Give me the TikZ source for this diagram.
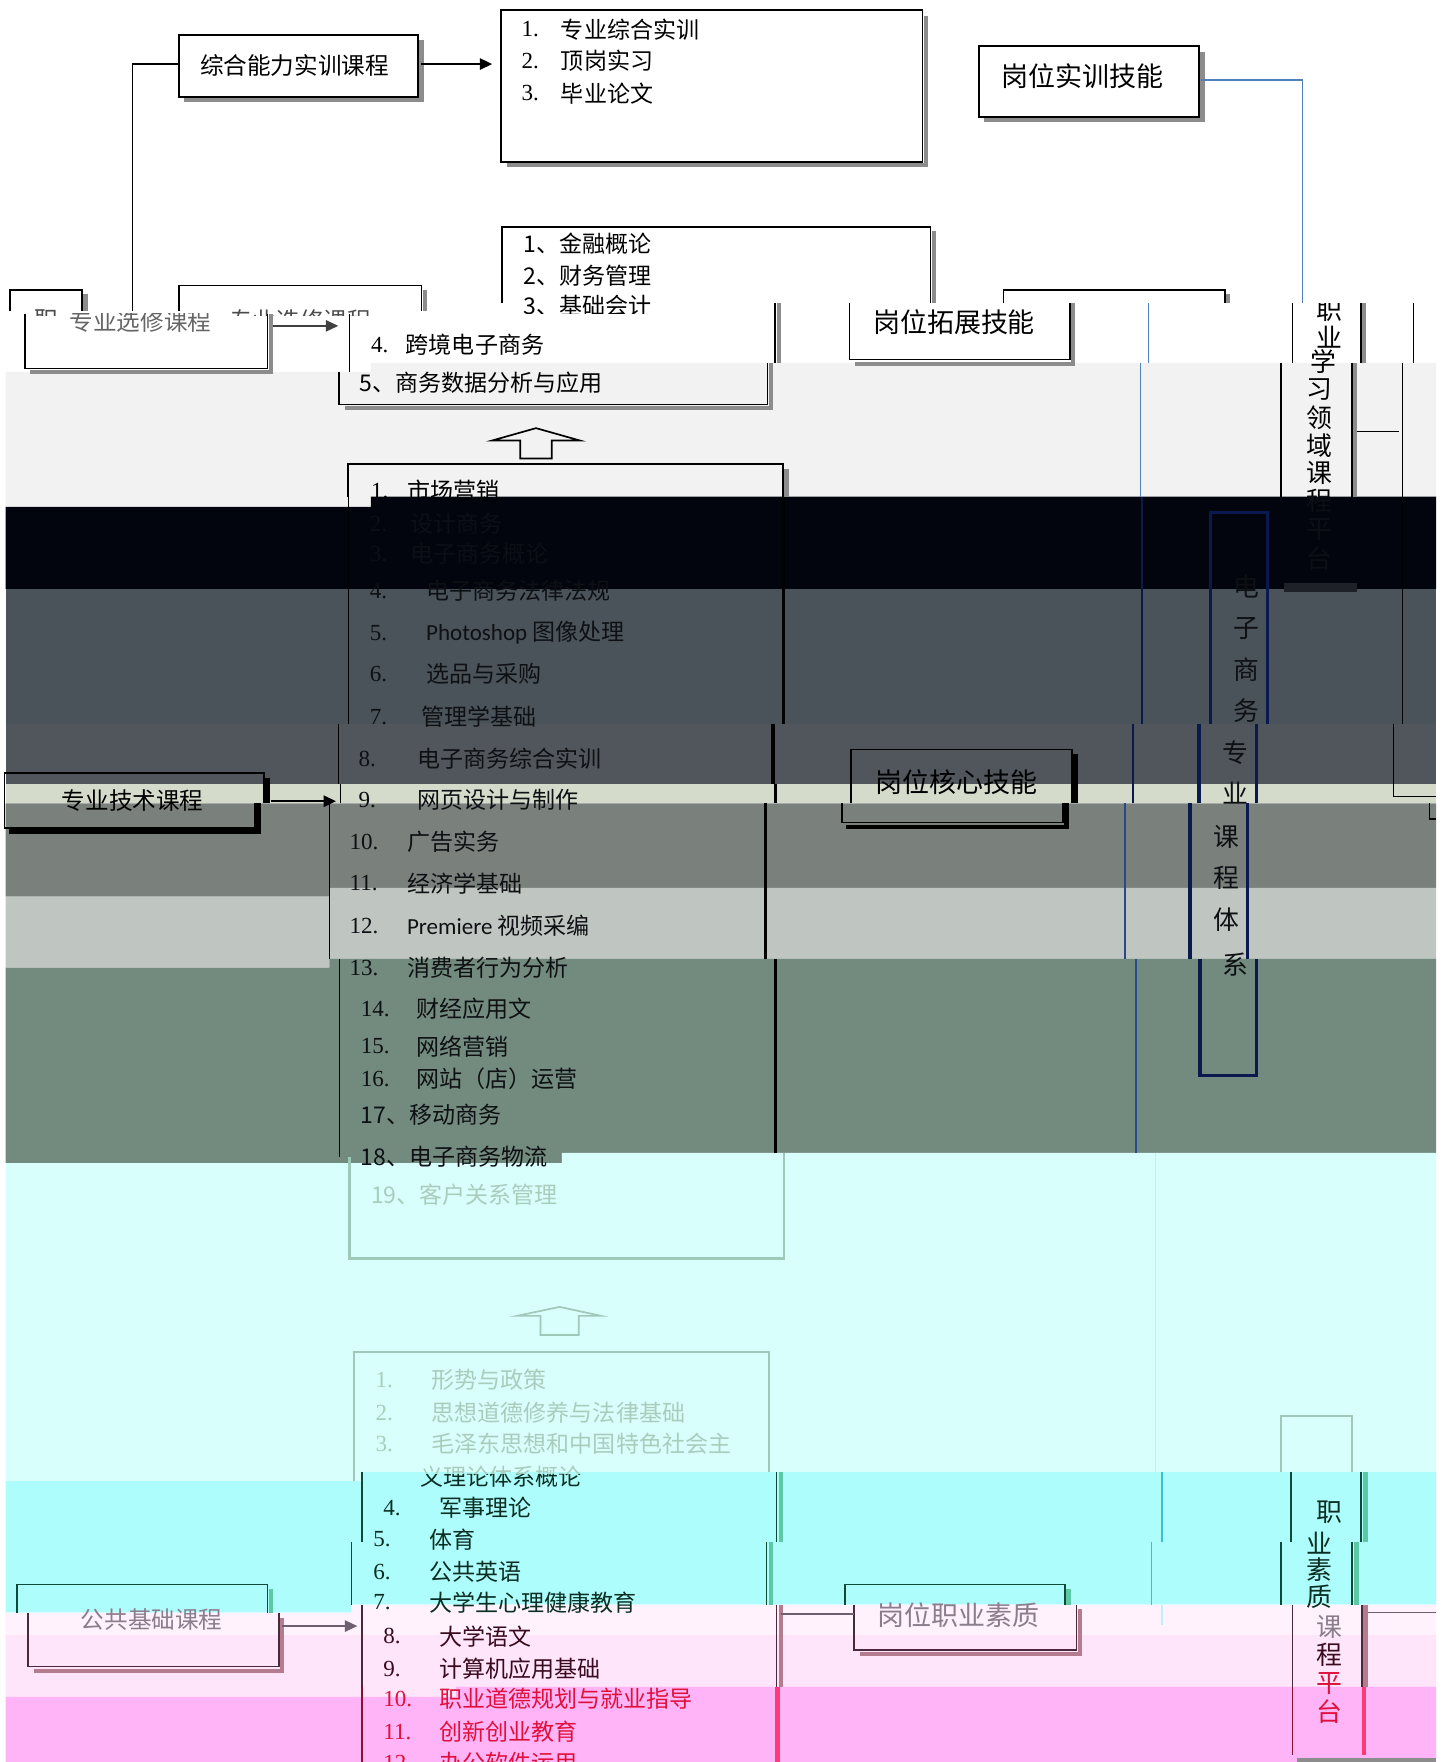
\documentclass[tikz,border=0pt]{standalone}
\usepackage{fontspec}
\setmainfont{Noto Sans CJK SC}
\newfontfamily\latf{Carlito}
\newfontfamily\numf{Liberation Serif}
\usetikzlibrary{arrows.meta}
\definecolor{cA}{HTML}{F2F2F2}
\definecolor{cB}{HTML}{02050E}
\definecolor{cC}{HTML}{4A535A}
\definecolor{cD}{HTML}{50565B}
\definecolor{cE}{HTML}{D4DBCA}
\definecolor{cF}{HTML}{7A807B}
\definecolor{cG}{HTML}{BFC5C0}
\definecolor{cH}{HTML}{738B7F}
\definecolor{cI}{HTML}{D9FFFC}
\definecolor{cJ}{HTML}{ADFDFC}
\definecolor{cK}{HTML}{FFF2FD}
\definecolor{cL}{HTML}{FFE5FA}
\definecolor{cM}{HTML}{FFB4F8}
\definecolor{shgray}{HTML}{8C8C8C}
\definecolor{blueln}{HTML}{4F81BD}
\definecolor{navy}{HTML}{0A1A4E}
\definecolor{navyb}{HTML}{284A8A}
\definecolor{dk}{HTML}{0C0F16}
\definecolor{txf}{HTML}{0E1014}
\definecolor{boxdk}{HTML}{1E2228}
\definecolor{lg}{HTML}{9DC9B9}
\definecolor{fa}{HTML}{A9CDBD}
\definecolor{dgl}{HTML}{0E4A36}
\definecolor{dgt}{HTML}{0A2E22}
\definecolor{gsh}{HTML}{5CC8A6}
\definecolor{tealln}{HTML}{3CC0D0}
\definecolor{lcy}{HTML}{BDF0F8}
\definecolor{mauve}{HTML}{8C7C8C}
\definecolor{mrn}{HTML}{3A0A1E}
\definecolor{mln}{HTML}{4A2A3A}
\definecolor{mshd}{HTML}{B47C8E}
\definecolor{mgray}{HTML}{6E5E70}
\definecolor{redt}{HTML}{E0103C}
\definecolor{redd}{HTML}{8A1030}
\definecolor{pinkln}{HTML}{FF3878}
\tikzset{
  bx/.style={draw=black, line width=1.6pt},
  shd/.style={draw=shgray, line width=4pt},
  crs/.style={anchor=west, inner sep=0pt, font=\fontsize{20.5}{22}\selectfont},
  lbl/.style={inner sep=0pt, font=\fontsize{21}{24}\selectfont},
  big/.style={inner sep=0pt, font=\fontsize{24}{26}\selectfont},
  vch/.style={inner sep=0pt, font=\fontsize{23}{25}\selectfont},
  bl/.style={draw=blueln, line width=1.3pt},
  arr/.style={line width=2pt, -{Triangle[length=11pt,width=10pt]}},
}
\newcommand\crsline[7]{%
  \node[crs,text=#7,font=\numf\fontsize{20.5}{22}\selectfont] (#1n) at (#2,#4) {#5};
  \node[crs,text=#7] (#1t) at (#3,#4) {#6};}
\newcommand\shbox[4]{%
  \draw[shd] (#3+3,#2+5) -- (#3+3,#4+3) -- (#1+5,#4+3);
  \draw[bx] (#1,#2) rectangle (#3,#4);}
\begin{document}
\begin{tikzpicture}[x=1pt,y=-1pt]
\useasboundingbox (0,0) rectangle (1289,1568);
\fill[white] (0,0) rectangle (1289,1568);
% ---------- background bands ----------
\fill[cA] (5,331) -- (330,331) -- (330,323) -- (1278,323) -- (1278,442) -- (330,442) -- (330,451) -- (5,451) -- cycle;
\fill[cB] (5,451) -- (330,451) -- (330,442) -- (1278,442) -- (1278,524) -- (5,524) -- cycle;
\fill[cC] (5,524) rectangle (1278,644);
\fill[cD] (5,644) rectangle (1278,698);
\fill[cE] (5,698) rectangle (1278,715);
\fill[cF] (5,715) -- (1278,715) -- (1278,790) -- (293,790) -- (293,798) -- (5,798) -- cycle;
\fill[cG] (5,798) -- (293,798) -- (293,790) -- (1278,790) -- (1278,853) -- (293,853) -- (293,861) -- (5,861) -- cycle;
\fill[cH] (5,861) -- (293,861) -- (293,853) -- (1278,853) -- (1278,1026) -- (500,1026) -- (500,1035) -- (5,1035) -- cycle;
\fill[cI] (5,1035) -- (500,1035) -- (500,1026) -- (1278,1026) -- (1278,1310) -- (322,1310) -- (322,1318) -- (5,1318) -- cycle;
\fill[cJ] (5,1318) -- (322,1318) -- (322,1310) -- (1278,1310) -- (1278,1428) -- (313,1428) -- (313,1435) -- (5,1435) -- cycle;
\fill[cK] (5,1435) -- (313,1435) -- (313,1428) -- (1278,1428) -- (1278,1455) -- (5,1455) -- cycle;
\fill[cL] (5,1455) -- (1278,1455) -- (1278,1501) -- (406,1501) -- (406,1510) -- (5,1510) -- cycle;
\fill[cM] (5,1510) -- (406,1510) -- (406,1501) -- (1278,1501) -- (1278,1568) -- (5,1568) -- cycle;
% ---------- band 1 ----------
\shbox{159}{31}{372}{86}
\node[lbl] (zh) at (262,58) {综合能力实训课程};
\coordinate (zl) at (159,57);
\coordinate (lva) at (118,57);
\coordinate (lvb) at (118,277);
\draw[line width=1.5pt] (zl) -- (lva) -- (lvb);
\coordinate (za) at (375,57); \coordinate (zb) at (438,57);
\draw[arr] (za) -- (zb);
\shbox{446}{9}{821}{144}
\crsline{aa}{464}{499}{26}{1.}{专业综合实训}{black}
\crsline{ab}{464}{499}{54}{2.}{顶岗实习}{black}
\crsline{ac}{464}{499}{83}{3.}{毕业论文}{black}
\shbox{871}{41}{1067}{104}
\node[big] (gwa) at (963,68) {岗位实训技能};
\coordinate (bla) at (1069,71); \coordinate (blb) at (1159,71); \coordinate (blc) at (1159,270);
\draw[bl] (bla) -- (blb) -- (blc);
\draw[shd] (831,206) -- (831,270);
\draw[bx] (447,270) -- (447,202) -- (828,202) -- (828,270);
\node[crs] (ba) at (466,217) {1、金融概论};
\node[crs] (bb) at (466,245) {2、财务管理};
\begin{scope}
\clip (440,255) rectangle (840,279);
\node[crs] (bc) at (466,272) {3、基础会计};
\end{scope}
\draw[shd] (76,262) -- (76,277);
\draw[bx] (9,277) -- (9,258) -- (73,258) -- (73,277);
\draw[shd] (378,258) -- (378,277);
\draw[bx] (159,277) -- (159,254) -- (375,254) -- (375,277);
\draw[shd] (1093,262) -- (1093,270);
\draw[bx] (893,270) -- (893,258) -- (1090,258) -- (1090,270);
\begin{scope}
\clip (0,266) rectangle (440,281);
\node[lbl,text=black!70] (zhit) at (41,285) {职};
\node[lbl,text=black!70] (zxt) at (267,285) {专业选修课程};
\end{scope}
% ---------- band 2 ----------
\draw[shd] (241,279) -- (241,331) -- (27,331);
\draw[bx] (22,279) -- (22,328) -- (238,328) -- (238,279);
\begin{scope}
\clip (0,279) rectangle (300,331);
\node[lbl,text=black!60] (zx) at (125,286) {专业选修课程};
\end{scope}
\coordinate (xa) at (243,290); \coordinate (xb) at (301,290);
\draw[arr,draw=black!75,line width=1.5pt] (xa) -- (xb);
\draw[line width=1.3pt] (311,279) -- (311,331);
\draw[shd] (693,270) -- (693,323);
\draw[bx] (690,270) -- (690,323);
\crsline{ca}{330}{361}{307}{4.}{跨境电子商务}{black}
\draw[shd] (955,270) -- (955,324) -- (761,324);
\draw[bx] (756,270) -- (756,320) -- (952,320) -- (952,270);
\node[big] (gwb) at (849,287) {岗位拓展技能};
\draw[bl] (1022,270) -- (1022,323);
\draw[shgray, line width=4pt] (1214,270) -- (1214,323);
\draw[line width=1.3pt] (1150,270) -- (1150,323) (1211,270) -- (1211,323) (1258,270) -- (1258,323);
\begin{scope}
\clip (1130,270) rectangle (1235,312);
\foreach \ch/\yy [count=\i] in {职/276,业/300} \node[vch] (vp\i) at (1183,\yy) {\ch};
\end{scope}
\node[vch] (vxue) at (1178,322) {学};
% ---------- band 3 ----------
\draw[shd] (686,323) -- (686,363) -- (307,363);
\draw[bx] (302,331) -- (302,360) -- (683,360) -- (683,323);
\node[crs] (cb) at (320,341) {5、商务数据分析与应用};
\draw[line width=1.5pt] (477,381) -- (438,392) -- (463,392) -- (463,408) -- (491,408) -- (491,392) -- (516,392) -- cycle;
\draw[shd] (700,417) -- (700,442);
\draw[bx] (310,442) -- (310,413) -- (697,413) -- (697,442);
\crsline{d1}{330}{362}{437}{1.}{市场营销}{black}
\draw[bl] (1015,323) -- (1015,442);
\draw[shgray, line width=4pt] (1206,323) -- (1206,442);
\draw[line width=1.3pt] (1140,323) -- (1140,442) (1203,323) -- (1203,442);
\draw[line width=1.5pt] (1208,384) -- (1245,384);
\draw[line width=1.3pt] (1248,323) -- (1248,644);
\begin{scope}
\clip (1130,334) rectangle (1235,442);
\foreach \ch/\yy [count=\i] in {习/347,领/372,域/397,课/421,程/446} \node[vch] (vq\i) at (1174,\yy) {\ch};
\end{scope}
% ---------- band 4 ----------
\crsline{d2}{329}{365}{466}{2.}{设计商务}{dk}
\crsline{d3}{329}{365}{493}{3.}{电子商务概论}{dk}
\crsline{d4}{329}{379}{526}{4.}{电子商务法律法规}{txf}
\draw[navy, line width=1.5pt] (1016,442) -- (1016,644);
\draw[navy, line width=3pt] (1077,644) -- (1077,456) -- (1128,456) -- (1128,644);
\fill[boxdk] (1143,519) rectangle (1208,527);
\begin{scope}
\clip (1130,442) rectangle (1235,530);
\foreach \ch/\yy [count=\i] in {程/446,平/471,台/497} \node[vch,text=dk] (vr\i) at (1174,\yy) {\ch};
\end{scope}
% ---------- band 5 ----------
\draw[line width=1.2pt] (310,442) -- (310,644);
\draw[line width=3pt] (697,442) -- (697,644);
\crsline{d5}{329}{379}{563}{5.}{{\latf Photoshop} 图像处理}{txf}
\crsline{d6}{329}{379}{600}{6.}{选品与采购}{txf}
\crsline{d7}{329}{375}{638}{7.}{管理学基础}{txf}
\foreach \ch/\xx/\yy [count=\i] in {电/1109/522,子/1109/559,商/1109/596,务/1109/632,专/1099/670,业/1099/706,课/1091/745,程/1091/781,体/1091/818,系/1099/858} \node[vch,text=txf] (ve\i) at (\xx,\yy) {\ch};
% ---------- band 6 ----------
\draw[line width=1.2pt] (301,644) -- (301,698);
\draw[line width=3pt] (688,644) -- (688,698);
\crsline{d8}{319}{371}{675}{8.}{电子商务综合实训}{txf}
\draw[line width=4pt] (957,671) -- (957,715);
\draw[bx] (757,715) -- (757,667) -- (954,667) -- (954,715);
\node[big] (gwc) at (851,696) {岗位核心技能};
\draw[line width=4pt] (238,692) -- (238,715);
\draw[bx] (4,715) -- (4,688) -- (235,688) -- (235,715);
\draw[navy, line width=1.5pt] (1008,644) -- (1008,715);
\draw[navy, line width=3pt] (1067,644) -- (1067,715) (1118,644) -- (1118,715);
\draw[line width=1.3pt] (1240,644) -- (1240,709) -- (1278,709);
% ---------- band 7 ----------
\node[lbl] (jsk) at (118,712) {专业技术课程};
\coordinate (ja) at (241,713); \coordinate (jb) at (299,713);
\draw[arr] (ja) -- (jb);
\draw[line width=1.2pt] (303,698) -- (303,715);
\draw[line width=3pt] (690,698) -- (690,715);
\crsline{d9}{319}{371}{712}{9.}{网页设计与制作}{txf}
% ---------- band 8 ----------
\draw[line width=4pt] (230,715) -- (230,740) -- (8,740);
\draw[bx] (4,715) -- (4,737) -- (227,737) -- (227,715);
\draw[line width=1.2pt] (293,715) -- (293,853);
\draw[line width=3pt] (681,715) -- (681,853);
\crsline{d10}{311}{362}{749}{10.}{广告实务}{txf}
\crsline{d11}{311}{362}{786}{11.}{经济学基础}{txf}
\draw[line width=4pt] (949,715) -- (949,736) -- (753,736);
\draw[bx] (749,715) -- (749,732) -- (946,732) -- (946,715);
\draw[navyb, line width=1.3pt] (1001,715) -- (1001,853);
\draw[navy, line width=3pt] (1059,715) -- (1059,853) (1110,715) -- (1110,853);
\draw[line width=1.3pt] (1272,715) -- (1272,729) -- (1278,729);
% ---------- band 9 ----------
\crsline{d12}{311}{362}{824}{12.}{{\latf Premiere} 视频采编}{txf}
% ---------- band 10 ----------
\draw[line width=1.2pt] (302,853) -- (302,1030);
\draw[line width=3pt] (690,853) -- (690,1026);
\crsline{d13}{311}{362}{861}{13.}{消费者行为分析}{txf}
\crsline{d14}{321}{370}{898}{14.}{财经应用文}{txf}
\crsline{d15}{321}{370}{931}{15.}{网络营销}{txf}
\crsline{d16}{321}{370}{960}{16.}{网站（店）运营}{txf}
\node[crs,text=txf] (d17) at (321,992) {17、移动商务};
\node[crs,text=txf] (d18) at (321,1029) {18、电子商务物流};
\draw[navy, line width=3pt] (1068,853) -- (1068,957) -- (1118,957) -- (1118,853);
\draw[navyb, line width=1.3pt] (1011,853) -- (1011,1026);
% ---------- band 11 ----------
\draw[lg, line width=2pt] (311,1030) -- (311,1120) -- (698,1120) -- (698,1026);
\node[crs,text=fa] (d19) at (330,1063) {19、客户关系管理};
\draw[lg, line width=1.5pt] (498,1163) -- (460,1171) -- (481,1171) -- (481,1188) -- (515,1188) -- (515,1171) -- (535,1171) -- cycle;
\draw[lg, line width=2pt] (315,1318) -- (315,1203) -- (684,1203) -- (684,1310);
\crsline{e1}{334}{384}{1228}{1.}{形势与政策}{fa}
\crsline{e2}{334}{384}{1257}{2.}{思想道德修养与法律基础}{fa}
\crsline{e3}{334}{384}{1285}{3.}{毛泽东思想和中国特色社会主}{fa}
\begin{scope}
\clip (300,1290) rectangle (700,1312);
\node[crs,text=fa] (eb) at (374,1314) {义理论体系概论};
\end{scope}
\begin{scope}
\clip (300,1312) rectangle (700,1340);
\node[crs,text=dgt] (ec) at (374,1314) {义理论体系概论};
\end{scope}
\draw[lcy, line width=1pt] (1028,1026) -- (1028,1310);
\draw[lg, line width=1.5pt] (1140,1310) -- (1140,1260) -- (1203,1260) -- (1203,1310);
% ---------- band 12 ----------
\draw[dgl, line width=1.3pt] (322,1310) -- (322,1372);
\draw[dgl, line width=1.3pt] (313,1372) -- (313,1428);
\draw[gsh, line width=4pt] (695,1310) -- (695,1372) (686,1372) -- (686,1428);
\draw[dgl, line width=1.3pt] (691,1310) -- (691,1372) (682,1372) -- (682,1428);
\crsline{e4}{341}{391}{1342}{4.}{军事理论}{dgt}
\crsline{e5}{332}{382}{1370}{5.}{体育}{dgt}
\crsline{e6}{332}{382}{1399}{6.}{公共英语}{dgt}
\crsline{e7}{332}{382}{1426}{7.}{大学生心理健康教育}{dgt}
\draw[gsh, line width=4pt] (241,1414) -- (241,1435);
\draw[dgl, line width=1.6pt] (15,1435) -- (15,1410) -- (238,1410) -- (238,1435);
\draw[gsh, line width=4pt] (951,1414) -- (951,1428);
\draw[dgl, line width=1.6pt] (752,1428) -- (752,1410) -- (948,1410) -- (948,1428);
\draw[tealln, line width=1pt] (1034,1310) -- (1034,1372) (1025,1372) -- (1025,1428);
\draw[gsh, line width=4pt] (1215,1310) -- (1215,1372) (1207,1372) -- (1207,1428);
\draw[dgl, line width=1.4pt] (1149,1310) -- (1149,1372) (1211,1310) -- (1211,1372) (1140,1372) -- (1140,1428) (1203,1372) -- (1203,1428);
\foreach \ch/\xx/\yy [count=\i] in {职/1183/1346,业/1174/1373,素/1174/1397,质/1174/1421} \node[vch,text=dgt] (vs\i) at (\xx,\yy) {\ch};
% ---------- band 13 ----------
\draw[mshd, line width=4pt] (251,1440) -- (251,1487) -- (30,1487);
\draw[mln, line width=1.6pt] (25,1435) -- (25,1483) -- (248,1483) -- (248,1435);
\node[lbl,text=mauve] (ggk) at (135,1441) {公共基础课程};
\coordinate (pa) at (251,1447); \coordinate (pb) at (318,1447);
\draw[arr, draw=mgray, line width=1.5pt] (pa) -- (pb);
\draw[mln, line width=1.3pt] (322,1428) -- (322,1501);
\draw[redd, line width=1.3pt] (322,1501) -- (322,1568);
\draw[mshd, line width=4pt] (695,1428) -- (695,1501);
\draw[mln, line width=1.3pt] (691,1428) -- (691,1501);
\draw[pinkln, line width=4pt] (692,1501) -- (692,1568);
\crsline{e8}{341}{391}{1456}{8.}{大学语文}{mrn}
\crsline{e9}{341}{391}{1485}{9.}{计算机应用基础}{mrn}
\draw[mshd, line width=4pt] (961,1432) -- (961,1472) -- (765,1472);
\draw[mln, line width=1.6pt] (760,1428) -- (760,1468) -- (958,1468) -- (958,1428);
\node[big,text=mauve] (gwd) at (853,1437) {岗位职业素质};
\coordinate (ha) at (695,1436); \coordinate (hb) at (760,1436);
\draw[mgray, line width=1.5pt] (ha) -- (hb);
\coordinate (hc) at (1216,1435); \coordinate (hd) at (1278,1435);
\draw[mgray, line width=1.5pt] (hc) -- (hd);
\draw[lcy, line width=1pt] (1034,1428) -- (1034,1446);
\draw[mshd, line width=4pt] (1215,1428) -- (1215,1501);
\draw[pinkln, line width=4pt] (1214,1501) -- (1214,1562);
\draw[mln, line width=1.3pt] (1150,1428) -- (1150,1501) (1212,1428) -- (1212,1501);
\draw[redd, line width=1.3pt] (1150,1501) -- (1150,1562);
\foreach \ch/\yy/\cc [count=\i] in {课/1448/mauve,程/1473/mrn,平/1498/redt,台/1523/redt} \node[vch,text=\cc] (vt\i) at (1183,\yy) {\ch};
% ---------- band 14 ----------
\crsline{e10}{341}{391}{1512}{10.}{职业道德规划与就业指导}{redt}
\crsline{e11}{341}{391}{1541}{11.}{创新创业教育}{redt}
\crsline{e12}{341}{391}{1569}{12.}{办公软件运用}{redt}
\fill[shgray] (1154,1564) rectangle (1278,1568);
\end{tikzpicture}
\end{document}
